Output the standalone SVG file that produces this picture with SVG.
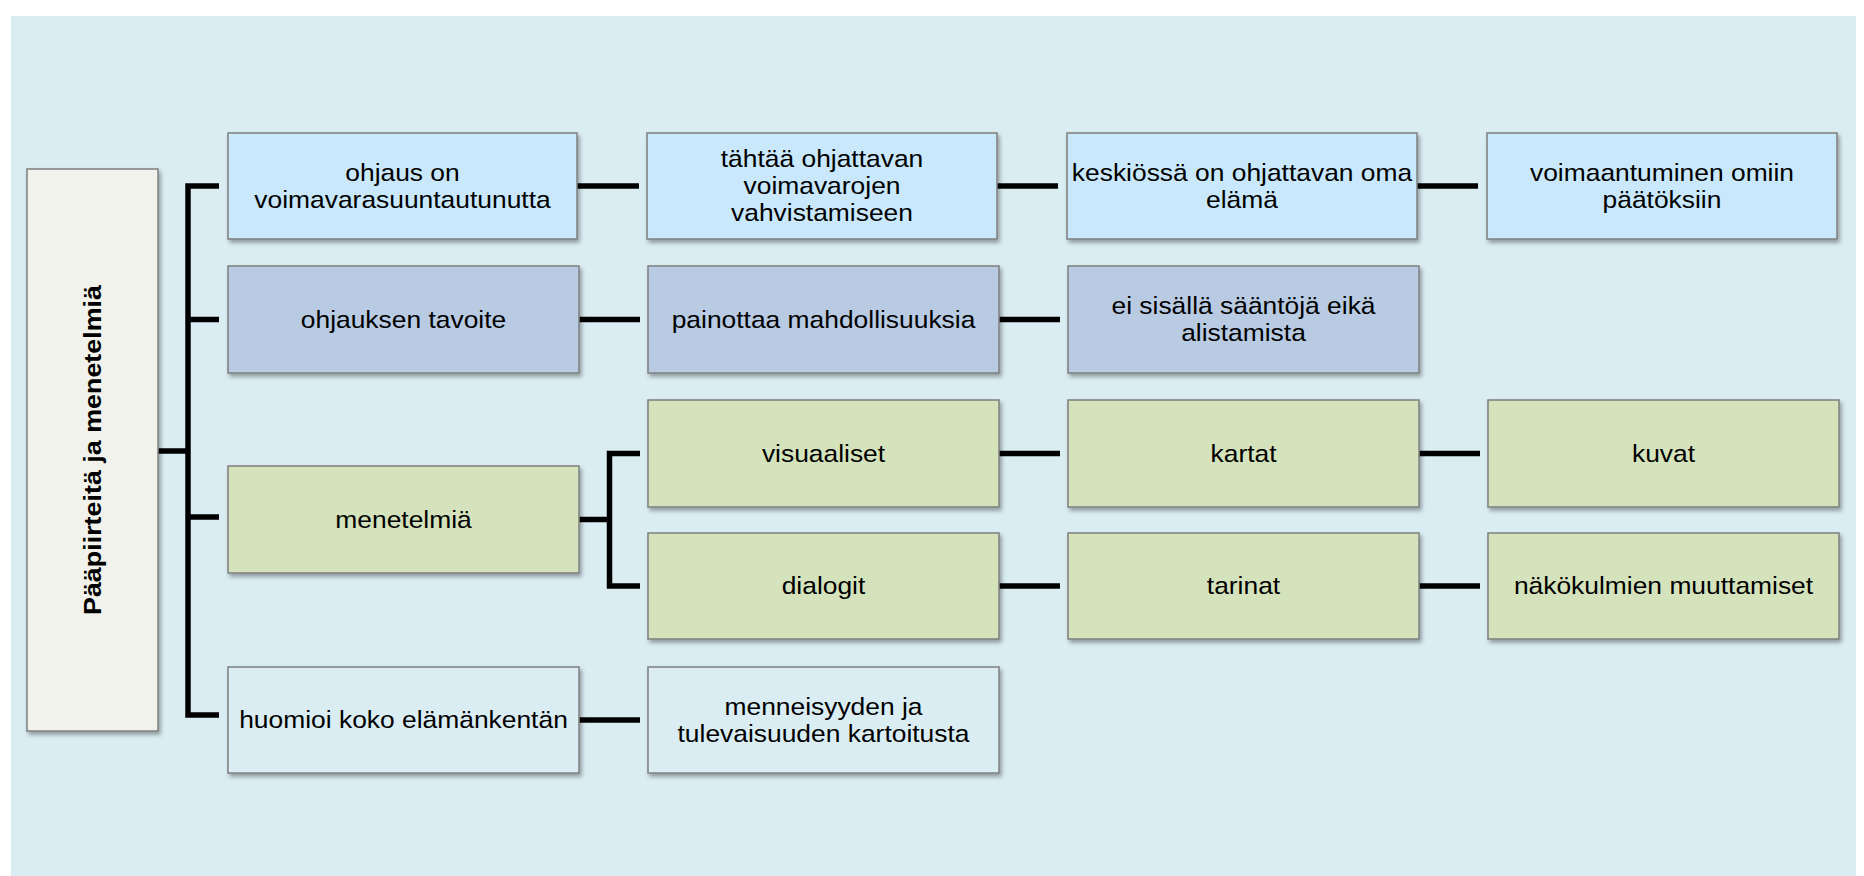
<svg xmlns="http://www.w3.org/2000/svg" width="1864" height="876" viewBox="0 0 1864 876">
<defs>
<filter id="sh" x="-5%" y="-10%" width="112%" height="125%">
<feDropShadow dx="2" dy="3" stdDeviation="2" flood-color="#000" flood-opacity="0.35"/>
</filter>
<style>
.bx{stroke:#7f7f7f;stroke-width:1.5;filter:url(#sh)}
.r1{fill:#c9e8fb}
.r2{fill:#b8cbe3}
.gr{fill:#d5e3bc}
.lt{fill:#daedf3}
.rt{fill:#f2f2ec}
.t{font-family:"Liberation Sans",Arial,sans-serif;font-size:24px;fill:#000;text-anchor:middle}
.tb{font-family:"Liberation Sans",Arial,sans-serif;font-size:24px;font-weight:bold;fill:#000;text-anchor:middle}
.cn{fill:none;stroke:#000;stroke-width:5.5;stroke-linejoin:miter;stroke-linecap:butt}
</style>
</defs>
<rect x="0" y="0" width="1864" height="876" fill="#ffffff"/>
<rect x="11" y="16" width="1845" height="860" fill="#daedf3"/>

<g id="connectors">
<path class="cn" d="M158,451 H188"/>
<path class="cn" d="M219,186 H188 V715 H219"/>
<path class="cn" d="M188,319.5 H219"/>
<path class="cn" d="M188,517 H219"/>
<path class="cn" d="M577,186 H639"/>
<path class="cn" d="M997,186 H1058"/>
<path class="cn" d="M1417,186 H1478"/>
<path class="cn" d="M579,319.5 H640"/>
<path class="cn" d="M999,319.5 H1060"/>
<path class="cn" d="M579,519.5 H609.5"/>
<path class="cn" d="M640,453.5 H609.5 V586 H640"/>
<path class="cn" d="M999,453.5 H1060"/>
<path class="cn" d="M1419,453.5 H1480"/>
<path class="cn" d="M999,586 H1060"/>
<path class="cn" d="M1419,586 H1480"/>
<path class="cn" d="M579,720 H640"/>
</g>

<g id="root">
<rect class="bx rt" x="27" y="169" width="131" height="562"/>
<text class="tb" transform="translate(100.5 450) rotate(-90) scale(1.12 1)" x="0" y="0">Pääpiirteitä ja menetelmiä</text>
</g>

<g id="n-ohjaus">
<rect class="bx r1" x="228" y="133" width="349" height="106"/>
<text class="t" transform="matrix(1.1 0 0 1 402.5 0)"><tspan x="0" y="180.9">ohjaus on</tspan><tspan x="0" y="207.7">voimavarasuuntautunutta</tspan></text>
</g>
<g id="n-tahtaa">
<rect class="bx r1" x="647" y="133" width="350" height="106"/>
<text class="t" transform="matrix(1.1 0 0 1 822 0)"><tspan x="0" y="167.5">tähtää ohjattavan</tspan><tspan x="0" y="194.3">voimavarojen</tspan><tspan x="0" y="221.1">vahvistamiseen</tspan></text>
</g>
<g id="n-keskiossa">
<rect class="bx r1" x="1067" y="133" width="350" height="106"/>
<text class="t" transform="matrix(1.1 0 0 1 1242 0)"><tspan x="0" y="180.9">keskiössä on ohjattavan oma</tspan><tspan x="0" y="207.7">elämä</tspan></text>
</g>
<g id="n-voimaantuminen">
<rect class="bx r1" x="1487" y="133" width="350" height="106"/>
<text class="t" transform="matrix(1.1 0 0 1 1662 0)"><tspan x="0" y="180.9">voimaantuminen omiin</tspan><tspan x="0" y="207.7">päätöksiin</tspan></text>
</g>

<g id="n-tavoite">
<rect class="bx r2" x="228" y="266" width="351" height="107"/>
<text class="t" transform="matrix(1.1 0 0 1 403.5 0)" x="0" y="327.8">ohjauksen tavoite</text>
</g>
<g id="n-painottaa">
<rect class="bx r2" x="648" y="266" width="351" height="107"/>
<text class="t" transform="matrix(1.1 0 0 1 823.5 0)" x="0" y="327.8">painottaa mahdollisuuksia</text>
</g>
<g id="n-eisisalla">
<rect class="bx r2" x="1068" y="266" width="351" height="107"/>
<text class="t" transform="matrix(1.1 0 0 1 1243.5 0)"><tspan x="0" y="314.4">ei sisällä sääntöjä eikä</tspan><tspan x="0" y="341.2">alistamista</tspan></text>
</g>

<g id="n-menetelmia">
<rect class="bx gr" x="228" y="466" width="351" height="107"/>
<text class="t" transform="matrix(1.1 0 0 1 403.5 0)" x="0" y="527.8">menetelmiä</text>
</g>
<g id="n-visuaaliset">
<rect class="bx gr" x="648" y="400" width="351" height="107"/>
<text class="t" transform="matrix(1.1 0 0 1 823.5 0)" x="0" y="461.8">visuaaliset</text>
</g>
<g id="n-kartat">
<rect class="bx gr" x="1068" y="400" width="351" height="107"/>
<text class="t" transform="matrix(1.1 0 0 1 1243.5 0)" x="0" y="461.8">kartat</text>
</g>
<g id="n-kuvat">
<rect class="bx gr" x="1488" y="400" width="351" height="107"/>
<text class="t" transform="matrix(1.1 0 0 1 1663.5 0)" x="0" y="461.8">kuvat</text>
</g>
<g id="n-dialogit">
<rect class="bx gr" x="648" y="533" width="351" height="106"/>
<text class="t" transform="matrix(1.1 0 0 1 823.5 0)" x="0" y="594.3">dialogit</text>
</g>
<g id="n-tarinat">
<rect class="bx gr" x="1068" y="533" width="351" height="106"/>
<text class="t" transform="matrix(1.1 0 0 1 1243.5 0)" x="0" y="594.3">tarinat</text>
</g>
<g id="n-nakokulmien">
<rect class="bx gr" x="1488" y="533" width="351" height="106"/>
<text class="t" transform="matrix(1.1 0 0 1 1663.5 0)" x="0" y="594.3">näkökulmien muuttamiset</text>
</g>

<g id="n-huomioi">
<rect class="bx lt" x="228" y="667" width="351" height="106"/>
<text class="t" transform="matrix(1.1 0 0 1 403.5 0)" x="0" y="728.3">huomioi koko elämänkentän</text>
</g>
<g id="n-menneisyyden">
<rect class="bx lt" x="648" y="667" width="351" height="106"/>
<text class="t" transform="matrix(1.1 0 0 1 823.5 0)"><tspan x="0" y="714.9">menneisyyden ja</tspan><tspan x="0" y="741.7">tulevaisuuden kartoitusta</tspan></text>
</g>
</svg>
